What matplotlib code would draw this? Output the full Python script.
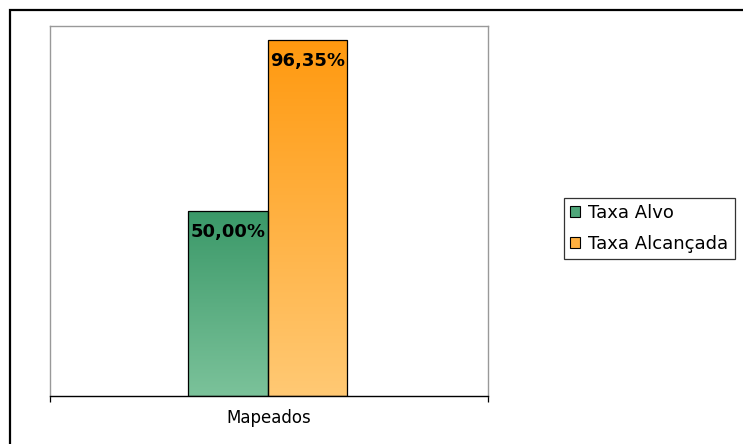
import numpy as np
import matplotlib
matplotlib.use('Agg')
import matplotlib.pyplot as plt
from matplotlib.colors import LinearSegmentedColormap
from matplotlib.patches import Rectangle, Patch

# dados
categoria = ['Mapeados']
series = ['Taxa Alvo', 'Taxa Alcançada']
valores = [0.50, 0.9635]
rotulos = ['50,00%', '96,35%']

# cores (topo, base) do degradê
cores_topo = ['#3a9868', '#ff990f']
cores_base = ['#7bc29a', '#ffc974']
cores_legenda = ['#4fa77a', '#ffb040']

W, H = 743, 444
fig = plt.figure(figsize=(W / 100, H / 100), dpi=100)
ax = fig.add_axes([50 / W, 48 / H, 438 / W, 370 / H])

largura = 0.333
centro = -0.006
xs = [centro - largura / 2, centro + largura / 2]
barras = ax.bar(xs, valores, width=largura, color='none', edgecolor='black',
                linewidth=0.9, zorder=3)

grad = np.linspace(0, 1, 256).reshape(-1, 1)
for b, ct, cb in zip(barras, cores_topo, cores_base):
    cmap = LinearSegmentedColormap.from_list('g', [cb, ct])
    x0, y0 = b.get_x(), b.get_y()
    im = ax.imshow(grad, cmap=cmap, origin='lower', aspect='auto',
                   extent=[x0, x0 + b.get_width(), y0, y0 + b.get_height()],
                   zorder=2)
    clip = Rectangle((x0, y0), b.get_width(), b.get_height(),
                     transform=ax.transData)
    im.set_clip_path(clip)

for x, v, r in zip(xs, valores, rotulos):
    ax.text(x, v - 0.057, r, ha='center', va='center', fontsize=13,
            fontweight='bold', zorder=4)

ax.set_xlim(-0.92, 0.92)
ax.set_ylim(0, 1.0)
ax.set_yticks([])
ax.set_xticks([0])
ax.set_xticklabels(categoria, fontsize=12)
ax.tick_params(axis='x', length=0, pad=9)
ax.set_xticks([-0.92, 0.92], minor=True)
ax.tick_params(axis='x', which='minor', length=4, width=0.9, color='black')
for s in ['left', 'top', 'right']:
    ax.spines[s].set_color('#999999')
    ax.spines[s].set_linewidth(1.0)
ax.spines['bottom'].set_color('black')
ax.spines['bottom'].set_linewidth(1.0)

handles = [Patch(facecolor=c, edgecolor='black', linewidth=0.8) for c in cores_legenda]
leg = fig.legend(handles, series, loc='upper left',
                 bbox_to_anchor=(564 / W, 1 - 198 / H), fontsize=13,
                 frameon=True, fancybox=False, handlelength=0.55,
                 handleheight=0.55, handletextpad=0.45, borderpad=0.35,
                 labelspacing=0.68, borderaxespad=0)
leg.get_frame().set_edgecolor('black')
leg.get_frame().set_linewidth(0.9)

# moldura externa
fig.patches.append(Rectangle((10 / W, -0.1), 1.2, 1 - 10 / H + 0.1,
                             transform=fig.transFigure, fill=False,
                             edgecolor='black', linewidth=1.6))

fig.savefig('out.png', dpi=100)
